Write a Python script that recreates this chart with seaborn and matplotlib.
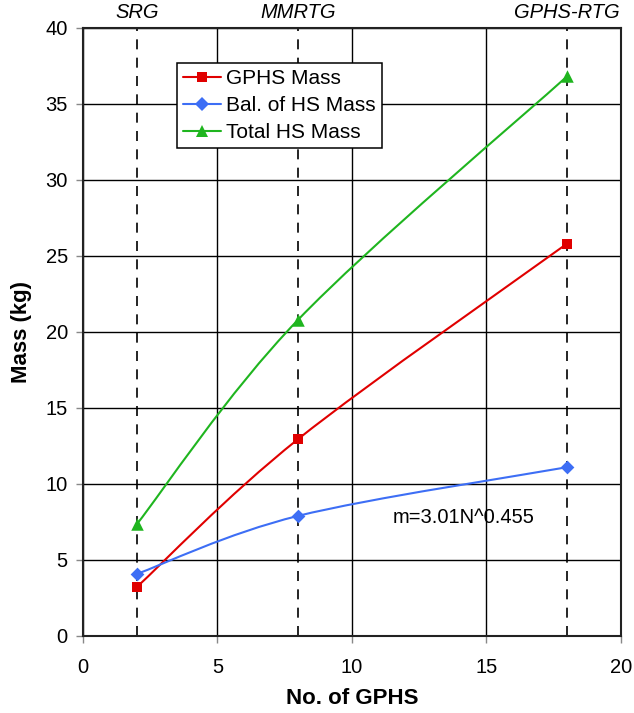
"""Heat source mass vs number of GPHS modules."""
import numpy as np
import pandas as pd
import matplotlib
matplotlib.use("Agg")
import matplotlib.pyplot as plt
from matplotlib.path import Path
from matplotlib.patches import PathPatch
from matplotlib.lines import Line2D
import seaborn as sns

# data
n_gphs = [2, 8, 18]
gphs_mass = [3.22, 12.95, 25.8]
bal_hs_mass = [4.08, 7.9, 11.1]
total_hs_mass = [7.35, 20.8, 36.8]
rtg_names = ["SRG", "MMRTG", "GPHS-RTG"]
fit_label = "m=3.01N^0.455"

series = [
    ("GPHS Mass", gphs_mass, "#E00000", "s", 7),
    ("Bal. of HS Mass", bal_hs_mass, "#3D6EF5", "D", 7),
    ("Total HS Mass", total_hs_mass, "#1FB51F", "^", 9),
]

sns.set_theme(style="white")
plt.rcParams["font.family"] = ["Liberation Sans", "DejaVu Sans"]
plt.rcParams.update({"text.color": "black", "axes.labelcolor": "black",
                     "xtick.color": "black", "ytick.color": "black"})


def smooth_path(xs, ys):
    """Excel-style smoothed line as cubic Bezier segments."""
    pts = np.column_stack([xs, ys]).astype(float)
    verts = [pts[0]]
    codes = [Path.MOVETO]
    for i in range(len(pts) - 1):
        p0 = pts[max(i - 1, 0)]
        p1, p2 = pts[i], pts[i + 1]
        p3 = pts[min(i + 2, len(pts) - 1)]
        verts += [p1 + (p2 - p0) / 6, p2 - (p3 - p1) / 6, p2]
        codes += [Path.CURVE4] * 3
    return Path(verts, codes)


fig = plt.figure(figsize=(6.34, 7.13), dpi=100)
ax = fig.add_axes([0.131, 0.108, 0.848, 0.853])

ax.set_xlim(0, 20)
ax.set_ylim(0, 40)
ax.set_xticks(np.arange(0, 21, 5))
ax.set_yticks(np.arange(0, 41, 5))
ax.grid(True, color="black", linewidth=1.0)
ax.set_axisbelow(True)
for s in ax.spines.values():
    s.set_color("#222222")
    s.set_linewidth(1.5)
ax.tick_params(direction="out", length=5, width=1, color="#888888",
               labelcolor="black", labelsize=14.5, bottom=True, left=True)
ax.tick_params(axis="x", pad=11)
ax.tick_params(axis="y", pad=6)

# dashed lines for each RTG type, labelled on top
for x, name in zip(n_gphs, rtg_names):
    ax.axvline(x, color="black", linestyle=(0, (6, 5)), linewidth=1.2, zorder=2)
    ax.text(x, 40.4, name, ha="center", va="bottom", fontsize=14.5,
            fontstyle="italic")

handles = []
for label, vals, color, marker, ms in series:
    ax.add_patch(PathPatch(smooth_path(n_gphs, vals), facecolor="none",
                           edgecolor=color, linewidth=1.5, zorder=3))
    df = pd.DataFrame({"x": n_gphs, "y": vals})
    sns.scatterplot(data=df, x="x", y="y", ax=ax, color=color, marker=marker,
                    s=ms ** 2, edgecolor=color, linewidth=0, zorder=4)
    handles.append(Line2D([], [], color=color, marker=marker, markersize=ms,
                          markeredgewidth=0, linewidth=1.5, label=label))

ax.text(11.5, 7.8, fit_label, fontsize=14.5, va="center", ha="left")

leg = ax.legend(handles=handles, loc="upper left", bbox_to_anchor=(0.175, 0.942),
                fontsize=15, frameon=True, fancybox=False, framealpha=1,
                edgecolor="black", handlelength=1.8, borderpad=0.3,
                labelspacing=0.38, handletextpad=0.25, borderaxespad=0)
leg.get_frame().set_linewidth(1.1)

ax.set_xlabel("No. of GPHS", fontsize=16, fontweight="bold", labelpad=8)
ax.set_ylabel("Mass (kg)", fontsize=16, fontweight="bold", labelpad=10)

plt.savefig("out.png", dpi=100)
plt.close()
